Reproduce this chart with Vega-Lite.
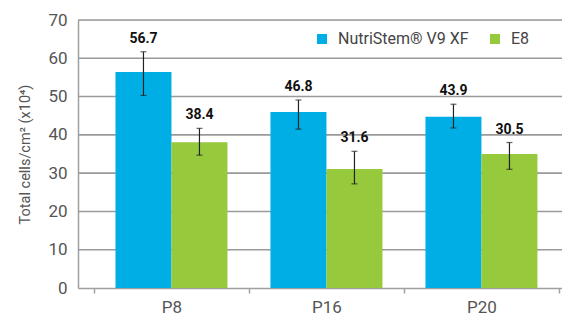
{
  "$schema": "https://vega.github.io/schema/vega-lite/v6.json",
  "width": 484,
  "height": 268,
  "autosize": "none",
  "padding": {"left": 78, "top": 20, "right": 0, "bottom": 28},
  "background": "white",
  "config": {
    "font": "Roboto",
    "axisY": {
      "titleFontSize": 14.5,
      "titleFontWeight": "normal",
      "titleColor": "#555555",
      "titlePadding": 15,
      "labelFontSize": 17,
      "labelColor": "#555555",
      "labelPadding": 11,
      "labelOverlap": false,
      "ticks": false,
      "grid": false,
      "domainColor": "#a0a0a0",
      "domainWidth": 1.5
    },
    "axisX": {
      "labelAngle": 0,
      "labelFontSize": 17,
      "labelColor": "#555555",
      "labelPadding": 6,
      "tickBand": "extent",
      "tickSize": 5,
      "tickColor": "#a0a0a0",
      "tickWidth": 1.5,
      "domainColor": "#a0a0a0",
      "domainWidth": 1.5,
      "grid": false
    }
  },
  "datasets": {
    "barvals": [
      {"passage": "P8", "medium": "NutriStem® V9 XF", "value": 56.4, "lo": 50.3, "hi": 61.7, "label": "56.7"},
      {"passage": "P8", "medium": "E8", "value": 38.1, "lo": 34.7, "hi": 41.7, "label": "38.4"},
      {"passage": "P16", "medium": "NutriStem® V9 XF", "value": 46.0, "lo": 41.5, "hi": 49.1, "label": "46.8"},
      {"passage": "P16", "medium": "E8", "value": 31.1, "lo": 27.2, "hi": 35.7, "label": "31.6"},
      {"passage": "P20", "medium": "NutriStem® V9 XF", "value": 44.7, "lo": 41.8, "hi": 48.0, "label": "43.9"},
      {"passage": "P20", "medium": "E8", "value": 35.0, "lo": 31.0, "hi": 38.0, "label": "30.5"}
    ],
    "gridvals": [
      {"level": 10}, {"level": 20}, {"level": 30}, {"level": 40}, {"level": 50}, {"level": 60}, {"level": 70}
    ]
  },
  "data": {"name": "barvals"},
  "layer": [
    {
      "data": {"name": "gridvals"},
      "mark": {"type": "rule", "color": "#9a9a9a", "strokeWidth": 1.6},
      "encoding": {
        "y": {
          "field": "level",
          "type": "quantitative",
          "scale": {"domain": [0, 70], "nice": false},
          "axis": {"title": "Total cells/cm² (x10⁴)", "values": [0, 10, 20, 30, 40, 50, 60, 70]}
        }
      }
    },
    {
      "mark": {"type": "bar"},
      "encoding": {
        "x": {
          "field": "passage",
          "type": "nominal",
          "sort": ["P8", "P16", "P20"],
          "scale": {"paddingInner": 0, "paddingOuter": 0.0613, "align": 0.84},
          "axis": {"title": null}
        },
        "xOffset": {
          "field": "medium",
          "type": "nominal",
          "sort": ["NutriStem® V9 XF", "E8"],
          "scale": {"paddingInner": 0, "paddingOuter": 0.384}
        },
        "y": {
          "field": "value",
          "type": "quantitative",
          "axis": {"title": "Total cells/cm² (x10⁴)", "values": [0, 10, 20, 30, 40, 50, 60, 70]}
        },
        "color": {
          "field": "medium",
          "type": "nominal",
          "sort": ["NutriStem® V9 XF", "E8"],
          "scale": {"domain": ["NutriStem® V9 XF", "E8"], "range": ["#00AEE6", "#97C93D"]},
          "legend": {
            "title": null,
            "orient": "none",
            "legendX": 236,
            "legendY": 11,
            "direction": "horizontal",
            "symbolType": "square",
            "symbolSize": 100,
            "symbolStrokeWidth": 0,
            "labelFontSize": 16,
            "labelColor": "#444444",
            "labelOffset": 8,
            "columnPadding": 18
          }
        }
      }
    },
    {
      "mark": {"type": "rule", "color": "#222222", "strokeWidth": 1.2},
      "encoding": {
        "x": {"field": "passage", "type": "nominal", "sort": ["P8", "P16", "P20"], "axis": {"title": null}},
        "xOffset": {"field": "medium", "type": "nominal", "sort": ["NutriStem® V9 XF", "E8"]},
        "y": {"field": "lo", "type": "quantitative", "axis": {"title": "Total cells/cm² (x10⁴)", "values": [0, 10, 20, 30, 40, 50, 60, 70]}},
        "y2": {"field": "hi"}
      }
    },
    {
      "mark": {"type": "tick", "color": "#222222", "thickness": 1.2, "size": 6},
      "encoding": {
        "x": {"field": "passage", "type": "nominal", "sort": ["P8", "P16", "P20"], "axis": {"title": null}},
        "xOffset": {"field": "medium", "type": "nominal", "sort": ["NutriStem® V9 XF", "E8"]},
        "y": {"field": "lo", "type": "quantitative", "axis": {"title": "Total cells/cm² (x10⁴)", "values": [0, 10, 20, 30, 40, 50, 60, 70]}}
      }
    },
    {
      "mark": {"type": "tick", "color": "#222222", "thickness": 1.2, "size": 6},
      "encoding": {
        "x": {"field": "passage", "type": "nominal", "sort": ["P8", "P16", "P20"], "axis": {"title": null}},
        "xOffset": {"field": "medium", "type": "nominal", "sort": ["NutriStem® V9 XF", "E8"]},
        "y": {"field": "hi", "type": "quantitative", "axis": {"title": "Total cells/cm² (x10⁴)", "values": [0, 10, 20, 30, 40, 50, 60, 70]}}
      }
    },
    {
      "mark": {"type": "text", "fontSize": 14, "fontWeight": "bold", "color": "#111111", "baseline": "alphabetic", "dy": -9},
      "encoding": {
        "x": {"field": "passage", "type": "nominal", "sort": ["P8", "P16", "P20"], "axis": {"title": null}},
        "xOffset": {"field": "medium", "type": "nominal", "sort": ["NutriStem® V9 XF", "E8"]},
        "y": {"field": "hi", "type": "quantitative", "axis": {"title": "Total cells/cm² (x10⁴)", "values": [0, 10, 20, 30, 40, 50, 60, 70]}},
        "text": {"field": "label"}
      }
    }
  ]
}
